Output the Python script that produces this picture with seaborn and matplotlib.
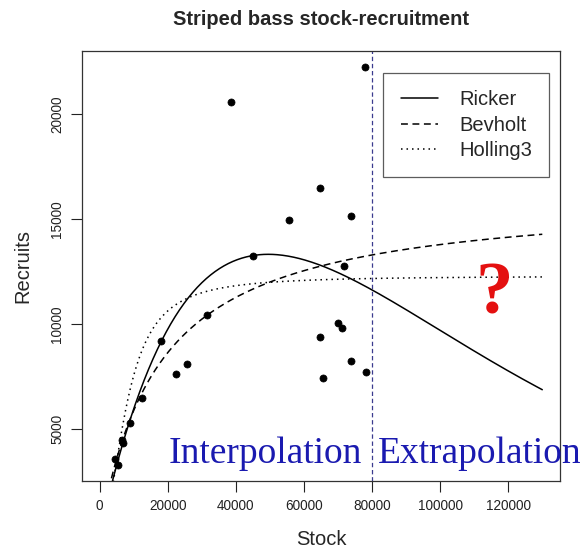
import numpy as np
import pandas as pd
import matplotlib
matplotlib.use("Agg")
import matplotlib.pyplot as plt
import seaborn as sns
from matplotlib.lines import Line2D

# Observed striped bass spawning stock and recruits
stock = [38560, 55630, 45090, 77980, 64620, 73700, 71650, 17950, 31620,
         25560, 22340, 12500, 8990, 6500, 6800, 4600, 5270, 64710, 65500,
         70070, 71240, 73880, 78180]
recruits = [20570, 14970, 13250, 22250, 16490, 15140, 12780, 9190, 10440,
            8100, 7650, 6510, 5300, 4480, 4330, 3600, 3300, 9400, 7460,
            10060, 9840, 8250, 7730]

# Fitted stock-recruitment model parameters
ricker_a, ricker_b = 0.732, 2.02e-5          # R = a S exp(-b S)
bevholt_a, bevholt_b = 0.929, 5.734e-5       # R = a S / (1 + b S)
holling_rmax, holling_k = 12300.0, 7900.0    # R = Rmax S^2 / (k^2 + S^2)
stock_max = 130000
split_stock = 80000

model_names = ["Ricker", "Bevholt", "Holling3"]
x_ticks = [0, 20000, 40000, 60000, 80000, 100000, 120000]
y_ticks = [5000, 10000, 15000, 20000]

sns.set_theme(style="white")
plt.rcParams["font.family"] = ["Liberation Sans", "DejaVu Sans"]

fig = plt.figure(figsize=(5.8, 5.48), dpi=100)
ax = fig.add_axes([0.1414, 0.1223, 0.8241, 0.7846])

S = np.linspace(0, stock_max, 400)
fits = pd.DataFrame({
    "Stock": np.tile(S, 3),
    "Recruits": np.concatenate([
        ricker_a * S * np.exp(-ricker_b * S),
        bevholt_a * S / (1 + bevholt_b * S),
        holling_rmax * S ** 2 / (holling_k ** 2 + S ** 2),
    ]),
    "Model": np.repeat(model_names, len(S)),
})

dash_styles = {"Ricker": "", "Bevholt": (4.5, 3.0), "Holling3": (1.0, 2.6)}
sns.lineplot(data=fits, x="Stock", y="Recruits", hue="Model", style="Model",
             palette=["black"] * 3, dashes=dash_styles,
             linewidth=1.1, ax=ax, legend=False)

obs = pd.DataFrame({"Stock": stock, "Recruits": recruits})
sns.scatterplot(data=obs, x="Stock", y="Recruits", color="black", s=26,
                edgecolor="black", linewidth=0.5, ax=ax, zorder=5)

ax.axvline(split_stock, color="#3b3b8f", linestyle=(0, (3.5, 2.2)), linewidth=0.9)

# R-style 4% axis expansion
xr = stock_max - 0
ax.set_xlim(0 - 0.04 * xr, stock_max + 0.04 * xr)
yr = max(recruits) - min(recruits)
ax.set_ylim(min(recruits) - 0.04 * yr, max(recruits) + 0.04 * yr)

ax.set_xticks(x_ticks)
ax.set_yticks(y_ticks)
ax.tick_params(axis="both", which="both", direction="out", length=8, width=0.8,
               colors="#222222", labelsize=9.8, bottom=True, left=True, pad=5)
for lab in ax.get_yticklabels():
    lab.set_rotation(90)
    lab.set_va("center")

for sp in ax.spines.values():
    sp.set_color("#333333")
    sp.set_linewidth(0.9)

ax.set_xlabel("Stock", fontsize=14.5, labelpad=12)
ax.set_ylabel("Recruits", fontsize=14.5, labelpad=13)
ax.set_title("Striped bass stock-recruitment", fontsize=14.5, fontweight="bold", pad=19)

# legend
handles = [
    Line2D([], [], color="black", lw=1.1, linestyle="-"),
    Line2D([], [], color="black", lw=1.1, linestyle=(0, (4.5, 3.0))),
    Line2D([], [], color="black", lw=1.1, linestyle=(0, (1.0, 2.6))),
]
leg = ax.legend(handles, model_names, loc="upper right",
                bbox_to_anchor=(0.977, 0.949), bbox_transform=ax.transAxes,
                borderaxespad=0, fontsize=14.5, frameon=True, fancybox=False,
                edgecolor="#333333", handlelength=1.85, handletextpad=1.05,
                borderpad=0.85, labelspacing=0.33)
leg.get_frame().set_linewidth(0.9)

# region annotations
blue = "#1a1ab0"
ax.text(20200, 3400, "Interpolation", fontsize=27, color=blue,
        family="Liberation Serif", va="baseline", ha="left", clip_on=False)
ax.text(81700, 3400, "Extrapolation", fontsize=27, color=blue,
        family="Liberation Serif", va="baseline", ha="left", clip_on=False)
ax.text(115800, 10500, "?", fontsize=54, color="#e41010",
        family="Liberation Serif", fontweight="bold", va="baseline", ha="center")

fig.savefig("out.png", dpi=100)
